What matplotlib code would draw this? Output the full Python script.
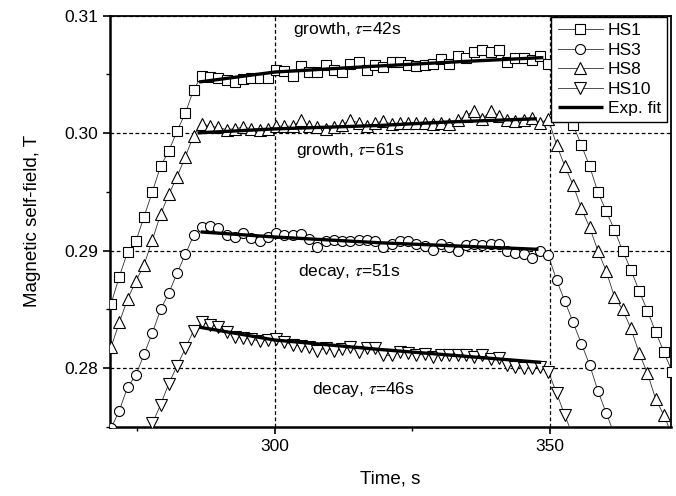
import numpy as np
import matplotlib
matplotlib.use("Agg")
import matplotlib.pyplot as plt
from matplotlib.ticker import MultipleLocator, FormatStrFormatter

plt.rcParams['font.family'] = ['Liberation Sans', 'DejaVu Sans']
plt.rcParams['mathtext.fontset'] = 'stix'

nan = np.nan

# sampling times, s (one shared grid for all probes)
time = [268.7, 270.2, 271.7, 273.2, 274.7, 276.2, 277.7, 279.2, 280.7, 282.2,
        283.7, 285.2, 286.7, 288.2, 289.7, 291.2, 292.7, 294.2, 295.7, 297.2,
        298.7, 300.2, 301.7, 303.2, 304.7, 306.2, 307.7, 309.2, 310.7, 312.2,
        313.7, 315.2, 316.7, 318.2, 319.7, 321.2, 322.7, 324.2, 325.7, 327.2,
        328.7, 330.2, 331.7, 333.2, 334.7, 336.2, 337.7, 339.2, 340.7, 342.2,
        343.7, 345.2, 346.7, 348.2, 349.7, 351.2, 352.7, 354.2, 355.7, 357.2,
        358.7, 360.2, 361.7, 363.2, 364.7, 366.2, 367.7, 369.2, 370.7, 372.2]

hs1 = [0.2832,
       0.2855, 0.2878, 0.2899, 0.2908, 0.2929, 0.2950, 0.2972, 0.2985, 0.3002, 0.3017, 0.3037, 0.3049,
       0.3048, 0.3047, 0.3045, 0.3044, 0.3046, 0.3047, 0.3047, 0.3047, 0.3054, 0.3053, 0.3049, 0.3057,
       0.3052, 0.3052, 0.3058, 0.3054, 0.3052, 0.3059, 0.3061, 0.3054, 0.3058, 0.3056, 0.3061, 0.3061,
       0.3058, 0.3057, 0.3058, 0.3059, 0.3063, 0.3059, 0.3066, 0.3064, 0.3069, 0.3071, 0.3069, 0.3071,
       0.3061, 0.3064, 0.3064, 0.3062, 0.3066, 0.3059,
       0.3041, 0.3024, 0.3007, 0.2990, 0.2972, 0.2950, 0.2934, 0.2918, 0.2900, 0.2884, 0.2866, 0.2849,
       0.2831, 0.2814, 0.2797]

hs3 = [0.2731,
       0.2749, 0.2764, 0.2784, 0.2794, 0.2812, 0.2830, 0.2850, 0.2864, 0.2881, 0.2897, 0.2913, 0.2920,
       0.2921, 0.2919, 0.2913, 0.2912, 0.2915, 0.2911, 0.2908, 0.2912, 0.2915, 0.2913, 0.2913, 0.2914,
       0.2910, 0.2903, 0.2908, 0.2909, 0.2908, 0.2908, 0.2909, 0.2909, 0.2908, 0.2903, 0.2906, 0.2908,
       0.2908, 0.2906, 0.2904, 0.2901, 0.2906, 0.2903, 0.2900, 0.2905, 0.2906, 0.2905, 0.2906, 0.2906,
       0.2900, 0.2898, 0.2897, 0.2894, 0.2900, 0.2896,
       0.2875, 0.2857, 0.2839, 0.2821, 0.2803, 0.2781, 0.2762, 0.2744, 0.2726, nan, nan, nan,
       nan, nan, nan]

hs8 = [0.2797,
       0.2818, 0.2839, 0.2859, 0.2874, 0.2888, 0.2909, 0.2931, 0.2948, 0.2963, 0.2980, 0.2998, 0.3008,
       0.3006, 0.3005, 0.3003, 0.3004, 0.3005, 0.3004, 0.3003, 0.3004, 0.3006, 0.3006, 0.3006, 0.3011,
       0.3006, 0.3005, 0.3004, 0.3005, 0.3007, 0.3011, 0.3009, 0.3006, 0.3009, 0.3010, 0.3008, 0.3009,
       0.3009, 0.3009, 0.3009, 0.3008, 0.3009, 0.3008, 0.3011, 0.3015, 0.3019, 0.3012, 0.3019, 0.3015,
       0.3011, 0.3010, 0.3011, 0.3013, 0.3009, 0.3012,
       0.2990, 0.2972, 0.2956, 0.2936, 0.2920, 0.2900, 0.2883, 0.2861, 0.2850, 0.2834, 0.2813, 0.2796,
       0.2774, 0.2760, 0.2743]

hs10 = [nan,
        nan, nan, nan, nan, 0.2737, 0.2753, 0.2769, 0.2787, 0.2802, 0.2817, 0.2832, 0.2839,
        0.2837, 0.2835, 0.2831, 0.2827, 0.2826, 0.2825, 0.2823, 0.2824, 0.2825, 0.2822, 0.2820, 0.2819,
        0.2818, 0.2815, 0.2817, 0.2815, 0.2816, 0.2818, 0.2814, 0.2817, 0.2817, 0.2811, 0.2811, 0.2814,
        0.2813, 0.2811, 0.2812, 0.2810, 0.2811, 0.2811, 0.2811, 0.2811, 0.2810, 0.2811, 0.2808, 0.2809,
        0.2803, 0.2801, 0.2800, 0.2800, 0.2801, 0.2797,
        0.2779, 0.2760, 0.2742, nan, nan, nan, nan, nan, nan, nan, nan, nan,
        nan, nan, nan]

# exponential fits
fit_hs1_t = [286.2, 300.0, 318.0, 334.0, 348.8]
fit_hs1_b = [0.30436, 0.30521, 0.30570, 0.30610, 0.30644]
fit_hs8_t = [285.9, 300.0, 319.0, 331.0, 347.6]
fit_hs8_b = [0.30003, 0.30037, 0.30066, 0.30095, 0.30123]
fit_hs3_t = [286.5, 300.0, 319.0, 347.9]
fit_hs3_b = [0.29160, 0.29117, 0.29068, 0.29012]
fit_hs10_t = [286.2, 300.0, 319.0, 348.4]
fit_hs10_b = [0.28350, 0.28240, 0.28160, 0.28050]

labels = ["HS1", "HS3", "HS8", "HS10"]
markers = ["s", "o", "^", "v"]
notes = ["growth, $\\tau$=42s", "growth, $\\tau$=61s", "decay, $\\tau$=51s", "decay, $\\tau$=46s"]

fig = plt.figure(figsize=(6.76, 4.96), dpi=100)
ax = fig.add_axes([0.1627, 0.1391, 0.8299, 0.8292])

t = np.array(time)
for vals, lab, mk in zip([hs1, hs3, hs8, hs10], labels, markers):
    ax.plot(t, np.array(vals), color='#333333', linewidth=0.6, marker=mk,
            markersize=8.5 if mk in "^v" else 7.2, markerfacecolor='white',
            markeredgecolor='black', markeredgewidth=0.8, label=lab, zorder=3)

fits = [(fit_hs1_t, fit_hs1_b), (fit_hs8_t, fit_hs8_b),
        (fit_hs3_t, fit_hs3_b), (fit_hs10_t, fit_hs10_b)]
for i, (ft, fb) in enumerate(fits):
    ax.plot(ft, fb, color='black', linewidth=2.4, solid_capstyle='butt',
            label="Exp. fit" if i == 0 else None, zorder=4)

note_size = 12.5
ax.text(303.2, 0.3088, notes[0], fontsize=note_size, va='center', ha='left')
ax.text(303.8, 0.29852, notes[1], fontsize=note_size, va='center', ha='left')
ax.text(304.1, 0.28826, notes[2], fontsize=note_size, va='center', ha='left')
ax.text(306.7, 0.27815, notes[3], fontsize=note_size, va='center', ha='left')

ax.set_xlim(270, 372)
ax.set_ylim(0.275, 0.31)
ax.xaxis.set_major_locator(MultipleLocator(50))
ax.xaxis.set_minor_locator(MultipleLocator(25))
ax.yaxis.set_major_locator(MultipleLocator(0.01))
ax.yaxis.set_minor_locator(MultipleLocator(0.005))
ax.yaxis.set_major_formatter(FormatStrFormatter('%.2f'))
ax.tick_params(which='major', direction='out', length=5, width=1.2, labelsize=12.5)
ax.tick_params(which='minor', direction='out', length=3, width=1.0)

ax.grid(True, which='major', color='black', linestyle=(0, (3, 2)), linewidth=0.9)
ax.set_axisbelow(True)
for side in ['left', 'bottom']:
    ax.spines[side].set_linewidth(1.8)
for side in ['top', 'right']:
    ax.spines[side].set_linewidth(1.3)

ax.set_xlabel("Time, s", fontsize=13.5, labelpad=12)
ax.set_ylabel("Magnetic self-field, T", fontsize=13.5, labelpad=17)

leg = ax.legend(loc='upper right', bbox_to_anchor=(0.993, 0.997), fontsize=12.5,
                frameon=True, fancybox=False, borderaxespad=0, handlelength=2.6,
                handletextpad=0.3, labelspacing=0.25, borderpad=0.35)
leg.get_frame().set_edgecolor('black')
leg.get_frame().set_linewidth(1.0)
leg.get_frame().set_alpha(1.0)
leg.set_zorder(10)

fig.savefig("out.png", dpi=100)
